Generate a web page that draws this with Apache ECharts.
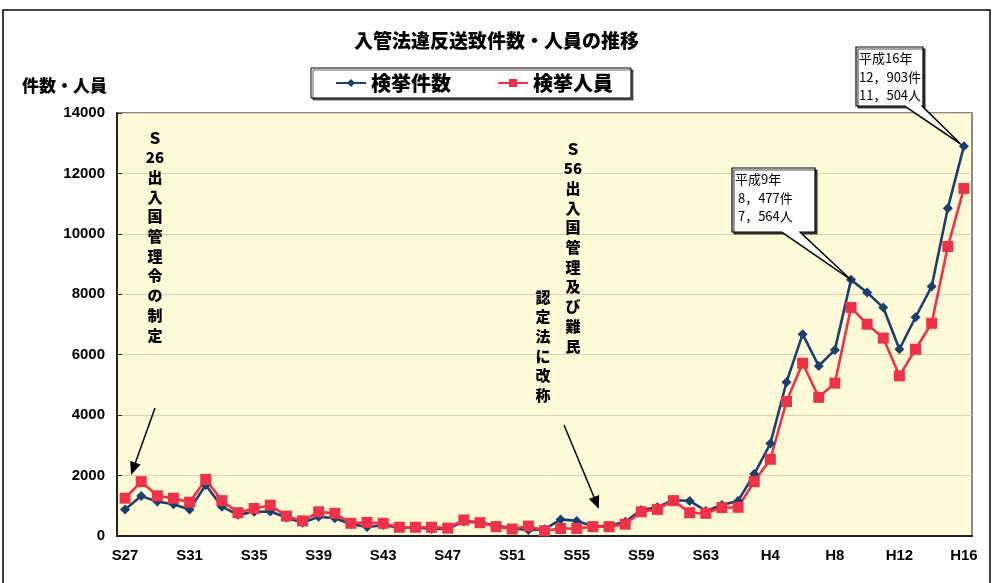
<!DOCTYPE html>
<html>
<head>
<meta charset="utf-8">
<script src="https://cdn.jsdelivr.net/npm/echarts@6/dist/echarts.min.js"></script>
<style>
  html, body { margin: 0; padding: 0; background: #fff; }
  #main { width: 993px; height: 583px; }
</style>
</head>
<body>
<div id="main"></div>
<script>
// 昭和27年(1952) 〜 平成16年(2004)
var years = [];
for (var y = 27; y <= 63; y++) years.push('S' + y);
for (var h = 1; h <= 16; h++) years.push('H' + h);

// 検挙件数
var kensu = [880, 1320, 1140, 1050, 880, 1690, 970, 700, 800, 810,
             610, 440, 640, 590, 400, 300, 360, 280, 280, 230,
             250, 480, 450, 350, 250, 200, 220, 550, 500, 330,
             340, 470, 860, 950, 1190, 1160, 830, 1030, 1160, 2050,
             3060, 5090, 6680, 5630, 6160, 8477, 8060, 7560, 6180, 7240,
             8260, 10850, 12903];
// 検挙人員
var jinin = [1250, 1800, 1330, 1250, 1120, 1870, 1170, 770, 910, 1020,
             660, 500, 800, 750, 420, 450, 420, 290, 290, 290,
             260, 530, 440, 310, 230, 330, 170, 250, 250, 310,
             310, 390, 800, 880, 1170, 770, 750, 940, 950, 1800,
             2540, 4450, 5720, 4590, 5060, 7564, 7010, 6550, 5300, 6180,
             7040, 9580, 11504];

var jp = '"Noto Sans CJK JP", sans-serif';
var num = '"Liberation Sans", Arial, sans-serif';
var blue = '#1B3F6E';
var red = '#EE3348';

var chart = echarts.init(document.getElementById('main'));

var option = {
    animation: false,
    backgroundColor: '#fff',
    title: {
        text: '入管法違反送致件数・人員の推移',
        left: 'center',
        top: 26,
        textStyle: { fontFamily: jp, fontSize: 19, fontWeight: 900, color: '#000' }
    },
    legend: {
        left: 311,
        top: 68,
        width: 341,
        height: 32,
        padding: [5, 18, 5, 24],
        itemGap: 46,
        itemWidth: 30,
        itemHeight: 10,
        backgroundColor: '#fff',
        borderColor: '#000',
        borderWidth: 1,
        shadowColor: 'rgba(0,0,0,0.6)',
        shadowOffsetX: 2,
        shadowOffsetY: 2,
        shadowBlur: 0,
        textStyle: { fontFamily: jp, fontSize: 20, fontWeight: 900, color: '#000' },
        data: ['検挙件数', '検挙人員']
    },
    grid: {
        left: 117, right: 21, top: 113, bottom: 47,
        show: true,
        backgroundColor: '#FEF9D7',
        borderColor: '#888',
        borderWidth: 2
    },
    xAxis: {
        type: 'category',
        data: years,
        boundaryGap: true,
        axisLine: { lineStyle: { color: '#222', width: 2 } },
        axisTick: { inside: true, length: 5, lineStyle: { color: '#222' } },
        axisLabel: {
            interval: 3,
            margin: 12,
            fontFamily: num, fontSize: 15, fontWeight: 'bold', color: '#000'
        }
    },
    yAxis: {
        type: 'value',
        min: 0, max: 14000, interval: 2000,
        axisLine: { show: true, lineStyle: { color: '#222', width: 2 } },
        axisTick: { show: true, inside: true, length: 5, lineStyle: { color: '#222' } },
        splitLine: { lineStyle: { color: '#D8D3B6', width: 1 } },
        axisLabel: {
            margin: 12, fontFamily: num, fontSize: 15, fontWeight: 'bold', color: '#000',
            formatter: function (v) { return String(v); }
        }
    },
    series: [
        {
            name: '検挙件数',
            type: 'line',
            data: kensu,
            symbol: 'diamond',
            symbolSize: 10,
            showAllSymbol: true,
            lineStyle: { color: blue, width: 2.6 },
            itemStyle: { color: blue }
        },
        {
            name: '検挙人員',
            type: 'line',
            data: jinin,
            symbol: 'rect',
            symbolSize: 11,
            showAllSymbol: true,
            lineStyle: { color: red, width: 2.6 },
            itemStyle: { color: red }
        }
    ]
};
chart.setOption(option);

// 注記（縦書き・矢印・吹き出し）
function vtext(x, y, lines) {
    return {
        type: 'text', x: x, y: y, z: 50,
        style: {
            text: lines.join('\n'),
            font: '900 15px ' + jp,
            fill: '#000',
            align: 'center',
            lineHeight: 19.7
        }
    };
}
function arrow(x1, y1, x2, y2) {
    var a = Math.atan2(y2 - y1, x2 - x1), L = 13, W = 5.5;
    var bx = x2 - L * Math.cos(a), by = y2 - L * Math.sin(a);
    var px = -Math.sin(a) * W, py = Math.cos(a) * W;
    return [
        { type: 'line', z: 50, shape: { x1: x1, y1: y1, x2: bx, y2: by }, style: { stroke: '#000', lineWidth: 1.5 } },
        { type: 'polygon', z: 50, shape: { points: [[x2, y2], [bx + px, by + py], [bx - px, by - py]] }, style: { fill: '#000' } }
    ];
}
function callout(x0, y0, x1, y1, b1, b2, tip, lines) {
    return [
        {
            type: 'polygon', z: 60,
            shape: { points: [[x0, y0], [x1, y0], [x1, y1], [b2, y1], tip, [b1, y1], [x0, y1]] },
            style: { fill: '#fff', stroke: '#000', lineWidth: 1.2, shadowColor: 'rgba(0,0,0,0.7)', shadowOffsetX: 2, shadowOffsetY: 2 }
        },
        {
            type: 'text', z: 61, x: x0 + 3, y: y0 + 2,
            style: { text: lines.join('\n'), font: '13px ' + jp, fill: '#000', lineHeight: 18.5 }
        }
    ];
}

var p9 = chart.convertToPixel({ seriesIndex: 0 }, [45, kensu[45]]);
var p16 = chart.convertToPixel({ seriesIndex: 0 }, [52, kensu[52]]);

var g = [
    { type: 'rect', z: 40, shape: { x: 3, y: 10, width: 987, height: 580 }, style: { fill: null, stroke: '#000', lineWidth: 1.5 } },
    { type: 'text', z: 50, x: 22, y: 77, style: { text: '件数・人員', font: '900 17px ' + jp, fill: '#000' } },
    vtext(155, 128, ['Ｓ', '26', '出', '入', '国', '管', '理', '令', 'の', '制', '定']),
    vtext(573, 139, ['Ｓ', '56', '出', '入', '国', '管', '理', '及', 'び', '難', '民']),
    vtext(543, 287, ['認', '定', '法', 'に', '改', '称'])
];
g = g.concat(arrow(155, 408, 131, 475));
g = g.concat(arrow(564, 425, 599, 509));
g = g.concat(callout(732, 168, 815, 232, 782, 800, [p9[0] - 1, p9[1] - 1], ['平成9年', ' 8，477件', ' 7，564人']));
g = g.concat(callout(856, 47, 923, 106, 905, 922, [p16[0] - 4, p16[1] - 3], ['平成16年', '12，903件', '11，504人']));

chart.setOption({ graphic: g });
</script>
</body>
</html>
